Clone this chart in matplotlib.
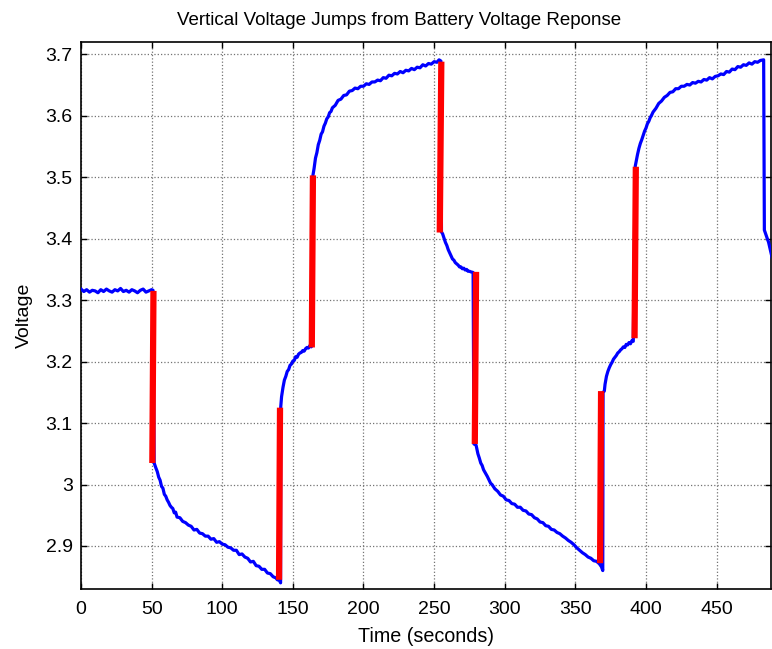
import matplotlib
matplotlib.use("Agg")
from matplotlib import pyplot as plt

# Battery terminal voltage, sampled by phase (time in s, voltage in V)
rest_t = [0, 2, 4, 6, 8, 10, 12, 14, 16, 18, 20, 22, 24, 26, 28, 30, 32, 34, 36,
          38, 40, 42, 44, 46, 48, 50, 51]
rest_v = [3.318, 3.314, 3.317, 3.313, 3.316, 3.315, 3.312, 3.317, 3.314, 3.318,
          3.315, 3.313, 3.317, 3.315, 3.319, 3.314, 3.316, 3.313, 3.317, 3.315,
          3.312, 3.316, 3.318, 3.313, 3.315, 3.317, 3.316]

dis1_t = [51.8, 53, 54, 55, 56, 57, 58, 59, 60, 61, 62, 63, 64, 65, 66, 67, 68, 70,
          72, 74, 76, 78, 80, 82, 84, 86, 88, 90, 92, 94, 96, 98, 100, 102, 104,
          106, 108, 110, 112, 114, 116, 118, 120, 122, 124, 126, 128, 130, 132,
          134, 136, 138, 139, 140.5, 141.3]
dis1_v = [3.035, 3.027, 3.021, 3.012, 3.007, 2.997, 2.994, 2.984, 2.981, 2.975,
          2.971, 2.966, 2.963, 2.961, 2.954, 2.955, 2.947, 2.946, 2.940, 2.938,
          2.934, 2.932, 2.926, 2.927, 2.921, 2.920, 2.916, 2.916, 2.911, 2.912,
          2.906, 2.907, 2.903, 2.902, 2.898, 2.897, 2.893, 2.893, 2.886, 2.887,
          2.882, 2.880, 2.874, 2.875, 2.868, 2.867, 2.862, 2.862, 2.856, 2.855,
          2.850, 2.848, 2.845, 2.844, 2.840]

chg1a_t = [141.4, 142, 143, 144, 145, 146, 147, 148, 149, 150, 151, 152, 153, 154,
           155, 156, 157, 158, 159, 160, 161, 162, 163, 163.8]
chg1a_v = [3.126, 3.143, 3.158, 3.170, 3.176, 3.184, 3.187, 3.194, 3.196, 3.201,
           3.202, 3.208, 3.207, 3.212, 3.214, 3.215, 3.218, 3.217, 3.221, 3.223,
           3.222, 3.226, 3.224, 3.227]

chg1b_t = [164.2, 165, 166, 167, 168, 169, 170, 171, 172, 173, 174, 175, 176, 177,
           178, 180, 182, 184, 186, 188, 190, 192, 194, 196, 198, 200, 202, 204,
           206, 208, 210, 212, 214, 216, 218, 220, 222, 224, 226, 228, 230, 232,
           234, 236, 238, 240, 242, 244, 246, 248, 250, 252, 253.5, 254.8]
chg1b_v = [3.503, 3.514, 3.531, 3.540, 3.553, 3.560, 3.570, 3.574, 3.583, 3.588,
           3.595, 3.598, 3.605, 3.607, 3.613, 3.617, 3.625, 3.627, 3.633, 3.634,
           3.640, 3.641, 3.645, 3.644, 3.648, 3.648, 3.652, 3.651, 3.655, 3.655,
           3.658, 3.657, 3.662, 3.661, 3.666, 3.665, 3.669, 3.668, 3.672, 3.670,
           3.674, 3.673, 3.677, 3.675, 3.679, 3.678, 3.683, 3.681, 3.685, 3.684,
           3.688, 3.687, 3.691, 3.689]

rel1_t = [255.2, 256, 257, 258, 259, 260, 261, 262, 263, 264, 265, 266, 267, 268,
          269, 270, 271, 272, 273, 274, 275, 276, 277.6]
rel1_v = [3.411, 3.408, 3.401, 3.394, 3.389, 3.382, 3.377, 3.372, 3.367, 3.365,
          3.361, 3.359, 3.357, 3.354, 3.354, 3.351, 3.352, 3.349, 3.350, 3.347,
          3.347, 3.346, 3.345]

dis2_t = [278.2, 279.7, 281, 282, 283, 284, 285, 286, 287.7, 289, 290, 291, 293,
          295, 297, 299, 301, 303, 305, 307, 309, 311, 313, 315, 317, 319, 321,
          323, 325, 327, 329, 331, 333, 335, 337, 339, 341, 343, 345, 347, 349,
          351, 353, 355, 357, 359, 361, 363, 365, 367, 368.5, 369.4]
dis2_v = [3.066, 3.064, 3.050, 3.043, 3.035, 3.031, 3.024, 3.020, 3.013, 3.007,
          3.002, 3.000, 2.993, 2.989, 2.983, 2.981, 2.975, 2.974, 2.969, 2.968,
          2.963, 2.963, 2.958, 2.957, 2.952, 2.951, 2.946, 2.944, 2.939, 2.938,
          2.933, 2.932, 2.927, 2.926, 2.922, 2.920, 2.916, 2.913, 2.909, 2.906,
          2.902, 2.897, 2.893, 2.889, 2.886, 2.882, 2.880, 2.876, 2.875, 2.871,
          2.866, 2.860]

chg2a_t = [369.6, 370.5, 371, 372, 373, 374, 375, 376, 377, 378, 379, 380, 381,
           382, 383, 384, 385, 386, 387, 388, 389, 390, 391]
chg2a_v = [3.150, 3.152, 3.163, 3.176, 3.184, 3.190, 3.195, 3.199, 3.204, 3.207,
           3.210, 3.214, 3.216, 3.219, 3.221, 3.224, 3.223, 3.228, 3.227, 3.231,
           3.229, 3.234, 3.233]

chg2b_t = [392.4, 393, 394, 395, 396, 397, 398, 399, 400, 401, 402, 403, 404, 405,
           407, 409, 411, 413, 415, 417, 419, 421, 423, 425, 427, 429, 431, 433,
           435, 437, 439, 441, 443, 445, 447, 449, 451, 453, 455, 457, 459, 461,
           463, 465, 467, 469, 471, 473, 475, 477, 479, 481, 483.3]
chg2b_v = [3.518, 3.525, 3.537, 3.547, 3.555, 3.561, 3.568, 3.575, 3.580, 3.587,
           3.591, 3.597, 3.601, 3.606, 3.612, 3.620, 3.624, 3.630, 3.633, 3.638,
           3.639, 3.644, 3.644, 3.648, 3.648, 3.651, 3.650, 3.654, 3.653, 3.656,
           3.655, 3.659, 3.658, 3.662, 3.660, 3.664, 3.665, 3.668, 3.667, 3.672,
           3.671, 3.676, 3.675, 3.680, 3.679, 3.683, 3.682, 3.686, 3.684, 3.688,
           3.687, 3.690, 3.691]

rel2_t = [483.8, 485, 486.8, 488, 489.5]
rel2_v = [3.414, 3.406, 3.394, 3.382, 3.367]

# Detected vertical jumps: start/end point of each step
jump_t0 = [51.3, 140.2, 163.4, 255.1, 279.7, 367.5, 391.9]
jump_v0 = [3.315, 2.845, 3.223, 3.688, 3.346, 2.872, 3.238]
jump_t1 = [50.5, 140.9, 164.2, 254.0, 278.8, 368.2, 392.8]
jump_v1 = [3.035, 3.125, 3.503, 3.410, 3.066, 3.152, 3.517]

yticks = [2.9, 3.0, 3.1, 3.2, 3.3, 3.4, 3.5, 3.6, 3.7]
ytick_labels = ['2.9', '3', '3.1', '3.2', '3.3', '3.4', '3.5', '3.6', '3.7']
xticks = [0, 50, 100, 150, 200, 250, 300, 350, 400, 450]

plt.rcParams['font.family'] = ['Liberation Sans', 'DejaVu Sans']

time_s = (rest_t + dis1_t + chg1a_t + chg1b_t + rel1_t + dis2_t + chg2a_t
          + chg2b_t + rel2_t)
volts = (rest_v + dis1_v + chg1a_v + chg1b_v + rel1_v + dis2_v + chg2a_v
         + chg2b_v + rel2_v)

fig = plt.figure(figsize=(7.72, 6.49), dpi=100)
ax = fig.add_axes([81 / 772, 60 / 649, 690 / 772, 547 / 649])

ax.plot(time_s, volts, color=(0, 0, 1), linewidth=2.3, zorder=3)
for t0, v0, t1, v1 in zip(jump_t0, jump_v0, jump_t1, jump_v1):
    ax.plot([t0, t1], [v0, v1], color=(1, 0, 0), linewidth=4.5,
            solid_capstyle='butt', zorder=4)

ax.set_xlim(0, 488.5)
ax.set_ylim(2.83, 3.72)
ax.set_xticks(xticks)
ax.set_yticks(yticks)
ax.set_yticklabels(ytick_labels)
ax.tick_params(direction='in', length=4, width=1, top=True, right=True,
               labelsize=14, colors='black')
ax.tick_params(axis='y', pad=6)
ax.tick_params(axis='x', pad=9)
ax.grid(True, linestyle=':', color='0.45', linewidth=0.9)
for sp in ax.spines.values():
    sp.set_linewidth(1.2)

ax.set_title('Vertical Voltage Jumps from Battery Voltage Reponse',
             fontsize=13.5, x=0.461, pad=12)
ax.set_xlabel('Time (seconds)', fontsize=14.2)
ax.xaxis.set_label_coords(0.5, -47 / 547)
ax.xaxis.label.set_va('center')
ax.set_ylabel('Voltage', fontsize=14)
ax.yaxis.set_label_coords(-57 / 690, 0.5)
ax.yaxis.label.set_va('center')

fig.savefig('out.png', dpi=100)
